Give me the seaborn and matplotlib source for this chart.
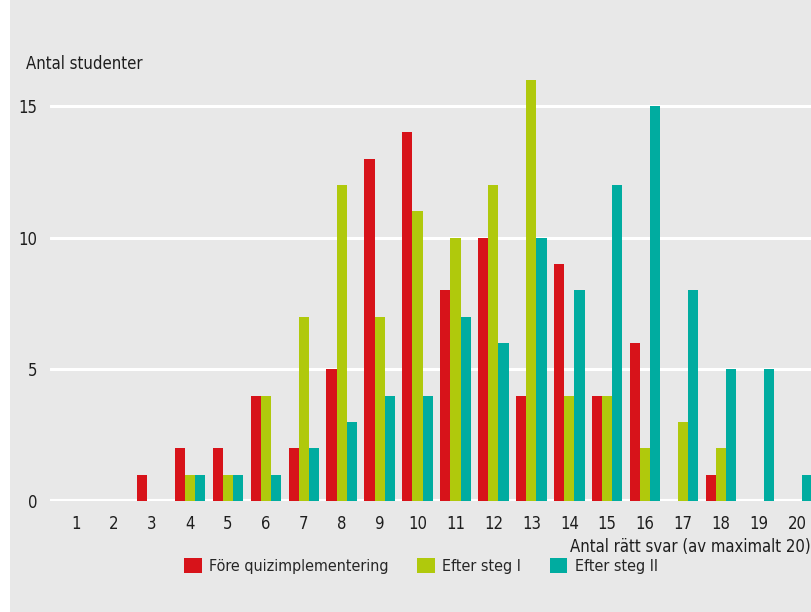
import pandas as pd
import numpy as np
import seaborn as sns
import matplotlib.pyplot as plt
from matplotlib.patches import Rectangle
from matplotlib import font_manager

# data
poang = list(range(1, 21))
fore = [0, 0, 1, 2, 2, 4, 2, 5, 13, 14, 8, 10, 4, 9, 4, 6, 0, 1, 0, 0]
steg1 = [0, 0, 0, 1, 1, 4, 7, 12, 7, 11, 10, 12, 16, 4, 4, 2, 3, 2, 0, 0]
steg2 = [0, 0, 0, 1, 1, 1, 2, 3, 4, 4, 7, 6, 10, 8, 12, 15, 8, 5, 5, 1]
serier = ["Före quizimplementering", "Efter steg I", "Efter steg II"]
farger = ["#d7131a", "#b0c90c", "#00aca0"]

df = pd.DataFrame({
    "poang": poang * 3,
    "antal": fore + steg1 + steg2,
    "serie": [serier[0]] * 20 + [serier[1]] * 20 + [serier[2]] * 20,
})

sns.set_theme(style="white")
names = {f.name for f in font_manager.fontManager.ttflist}
fam = "Liberation Sans Narrow" if "Liberation Sans Narrow" in names else "DejaVu Sans"
plt.rcParams["font.family"] = [fam, "DejaVu Sans"]
plt.rcParams["font.stretch"] = "condensed"

bg = "#e8e8e8"
txt = "#1e1e1e"
fs = 12
fig = plt.figure(figsize=(8.12, 6.12), dpi=100, facecolor=bg)
ax = fig.add_axes([50 / 812, 111 / 612, 762 / 812, 447.7 / 612])
ax.set_facecolor(bg)

sns.barplot(data=df, x="poang", y="antal", hue="serie", hue_order=serier,
            palette=farger, saturation=1, width=0.8, linewidth=0,
            errorbar=None, ax=ax, zorder=3)

ax.set_xlim(-0.685, 19.395)
ax.set_ylim(0, 17)
ax.set_yticks([0, 5, 10, 15])
ax.yaxis.grid(True, color="white", linewidth=2.2, zorder=0)
ax.set_axisbelow(True)
ax.axhline(0, color="white", linewidth=3, zorder=2)
for s in ax.spines.values():
    s.set_visible(False)
ax.tick_params(axis="both", length=0, labelsize=fs, colors=txt)
ax.tick_params(axis="y", pad=9)
ax.tick_params(axis="x", pad=10)
ax.set_xlabel("")
ax.set_ylabel("")

fig.text(26 / 812, 1 - 64 / 612, "Antal studenter", fontsize=fs, va="center", ha="left", color=txt)
fig.text(811 / 812, 1 - 547 / 612, "Antal rätt svar (av maximalt 20)", fontsize=fs,
         va="center", ha="right", color=txt)

leg = ax.legend(loc="center", bbox_to_anchor=(421 / 812, 1 - 566 / 612),
                bbox_transform=fig.transFigure, ncol=3, frameon=False,
                fontsize=11.5, handlelength=1.1, handleheight=1.1,
                handletextpad=0.45, columnspacing=1.8)

fig.patches.append(Rectangle((0, 0), 10 / 812, 1, transform=fig.transFigure,
                             facecolor="white", edgecolor="none", zorder=10))

fig.savefig("out.png", dpi=100, facecolor=bg)
